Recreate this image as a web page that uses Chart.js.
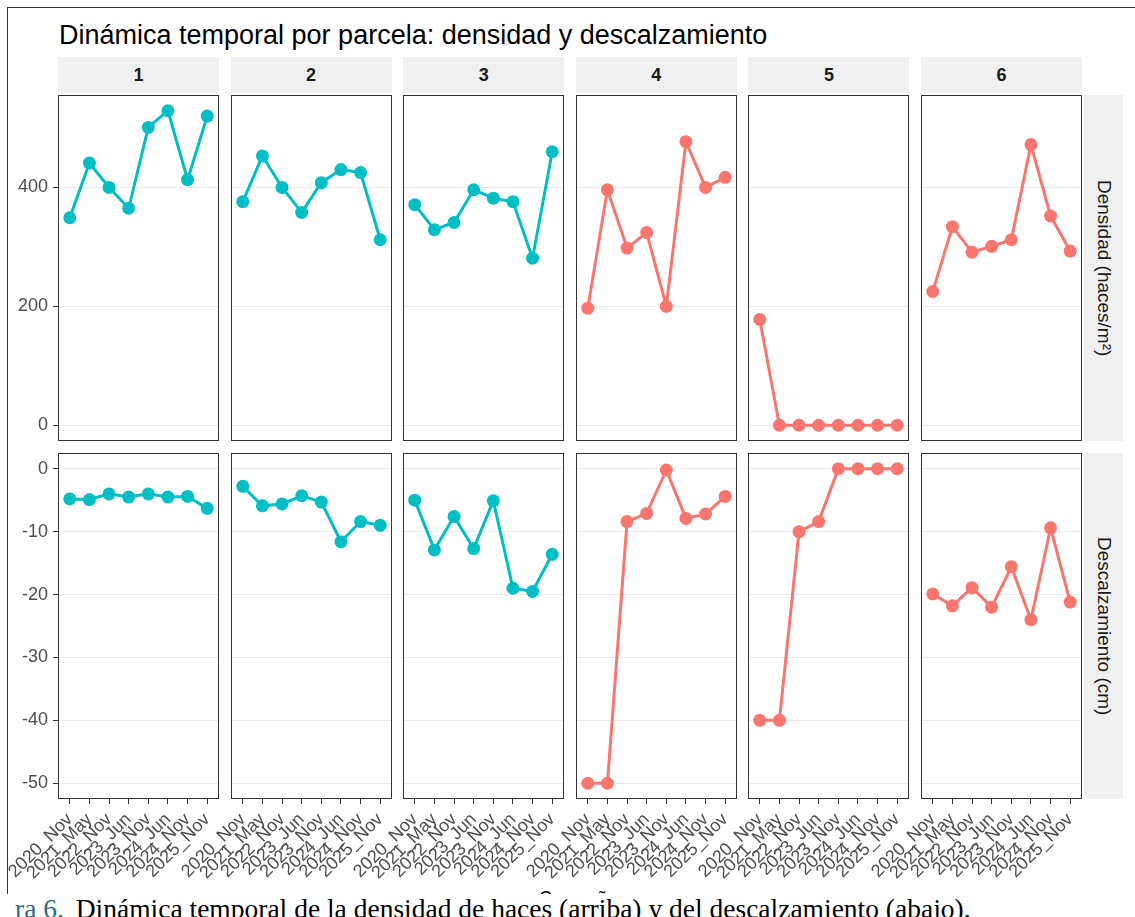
<!DOCTYPE html>
<html>
<head>
<meta charset="utf-8">
<script src="https://cdn.jsdelivr.net/npm/chart.js@4.4.1/dist/chart.umd.min.js"></script>
<style>
    html, body { margin: 0; padding: 0; background: #fff; width: 1135px; height: 917px; overflow: hidden; }
    body { position: relative; font-family: "Liberation Sans", Arial, sans-serif; }
    #frame { position: absolute; left: 7px; top: 7px; width: 1140px; height: 886px; border-left: 1px solid #333; border-top: 1px solid #333; overflow: hidden; }
    #title { position: absolute; left: 51px; top: 14px; font-size: 27px; line-height: 27px; color: #000; white-space: nowrap; }
    .strip-top { position: absolute; background: #f0f0f0; color: #1a1a1a; font-weight: bold; font-size: 18px; display: flex; align-items: center; justify-content: center; }
    .strip-right { position: absolute; background: #f0f0f0; color: #1a1a1a; font-size: 19px; display: flex; align-items: center; justify-content: center; }
    .strip-right span { writing-mode: vertical-rl; white-space: nowrap; }
    .panel { position: absolute; }
    #xtitle { position: absolute; left: 0; width: 1140px; top: 880px; text-align: center; font-size: 18px; color: #000; }
    #caption { position: absolute; left: 15px; top: 895px; font-family: "Liberation Serif", "Times New Roman", serif; font-size: 27.5px; line-height: 27px; color: #000; white-space: nowrap; }
    #caption .num { color: #2b6c84; margin-right: 5px; }
</style>
</head>
<body>
<div id="frame">
    <div id="title">Dinámica temporal por parcela: densidad y descalzamiento</div>
    <div id="xtitle">Campaña</div>
</div>
<div id="caption"><span class="num">ra 6.</span> Dinámica temporal de la densidad de haces (arriba) y del descalzamiento (abajo).</div>

<script>
// Categories / facets
const CAMPAIGNS = ['2020_Nov', '2021_May', '2022_Nov', '2023_Jun', '2023_Nov', '2024_Jun', '2024_Nov', '2025_Nov'];
const PARCELS = ['1', '2', '3', '4', '5', '6'];
const PARCEL_GROUP = ['A', 'A', 'A', 'B', 'B', 'B'];
const ROW_LABELS = ['Densidad (haces/m²)', 'Descalzamiento (cm)'];

// Densidad (haces/m2) per parcel
const densidadP1 = [349, 441, 400, 365, 501, 529, 413, 520];
const densidadP2 = [376, 453, 400, 358, 408, 430, 425, 312];
const densidadP3 = [371, 329, 341, 396, 382, 376, 281, 460];
const densidadP4 = [197, 396, 298, 324, 200, 477, 400, 417];
const densidadP5 = [178, 0, 0, 0, 0, 0, 0, 0];
const densidadP6 = [225, 334, 291, 301, 312, 472, 352, 293];

// Descalzamiento (cm) per parcel
const descalzP1 = [-4.8, -4.9, -4.0, -4.5, -4.0, -4.5, -4.4, -6.3];
const descalzP2 = [-2.8, -5.9, -5.6, -4.3, -5.3, -11.6, -8.4, -9.0];
const descalzP3 = [-5.0, -12.9, -7.6, -12.7, -5.1, -19.0, -19.5, -13.6];
const descalzP4 = [-50, -50, -8.4, -7.1, -0.2, -7.9, -7.2, -4.4];
const descalzP5 = [-40, -40, -10, -8.4, 0, 0, 0, 0];
const descalzP6 = [-19.9, -21.8, -18.9, -22, -15.6, -24, -9.4, -21.2];

// Tick labels
const DENS_TICKS = [0, 200, 400];
const DESC_TICKS = [0, -10, -20, -30, -40, -50];

const GROUP_COLORS = { A: '#00BFC4', B: '#F8766D' };

// Layout (page pixels)
const FRAME_X = 8, FRAME_Y = 8;
const PANEL_LEFT0 = 58;
const PANEL_STEP = 172.6;
const PANEL_W = 161;
const PANEL_H = 346;
const ROW_TOP = [95, 453];
const STRIP_TOP = 57, STRIP_H = 36;
const STRIP_RIGHT_X = 1084, STRIP_RIGHT_W = 39;
const Y_AXIS_W = 56;
const X_AXIS_H = 90;

const rows = [
    { values: [densidadP1, densidadP2, densidadP3, densidadP4, densidadP5, densidadP6], ticks: DENS_TICKS },
    { values: [descalzP1, descalzP2, descalzP3, descalzP4, descalzP5, descalzP6], ticks: DESC_TICKS }
];

// ggplot-like 5% expansion of the data range
function expandedRange(series) {
    const all = series.flat();
    const lo = Math.min(...all), hi = Math.max(...all);
    const pad = (hi - lo) * 0.05;
    return [lo - pad, hi + pad];
}

// Full border round each panel
const panelBorder = {
    id: 'panelBorder',
    afterDatasetsDraw(chart) {
        const a = chart.chartArea;
        const ctx = chart.ctx;
        ctx.save();
        ctx.strokeStyle = '#333333';
        ctx.lineWidth = 1;
        ctx.strokeRect(Math.round(a.left) + 0.5, Math.round(a.top) + 0.5,
            Math.round(a.right - a.left) - 1, Math.round(a.bottom - a.top) - 1);
        ctx.restore();
    }
};

function addDiv(cls, left, top, width, height, html) {
    const d = document.createElement('div');
    d.className = cls;
    d.style.left = (left - FRAME_X) + 'px';
    d.style.top = (top - FRAME_Y) + 'px';
    d.style.width = width + 'px';
    d.style.height = height + 'px';
    d.innerHTML = html;
    document.getElementById('frame').appendChild(d);
    return d;
}

// Strips
PARCELS.forEach((p, c) => {
    addDiv('strip-top', PANEL_LEFT0 + c * PANEL_STEP, STRIP_TOP, PANEL_W, STRIP_H, p);
});
ROW_LABELS.forEach((lab, r) => {
    addDiv('strip-right', STRIP_RIGHT_X, ROW_TOP[r], STRIP_RIGHT_W, PANEL_H, '<span>' + lab + '</span>');
});

// Panels
rows.forEach((row, r) => {
    const [yMin, yMax] = expandedRange(row.values);
    row.values.forEach((vals, c) => {
        const isBottom = r === 1;
        const isLeft = c === 0;
        const panelLeft = PANEL_LEFT0 + c * PANEL_STEP;
        const w = PANEL_W + Y_AXIS_W;
        const h = PANEL_H + (isBottom ? X_AXIS_H : 0);
        const holder = addDiv('panel', Math.round(panelLeft - Y_AXIS_W), ROW_TOP[r], w, h, '');
        const canvas = document.createElement('canvas');
        canvas.width = w;
        canvas.height = h;
        holder.appendChild(canvas);

        const color = GROUP_COLORS[PARCEL_GROUP[c]];
        new Chart(canvas.getContext('2d'), {
            type: 'line',
            data: {
                datasets: [{
                    data: vals.map((v, i) => ({ x: i, y: v })),
                    borderColor: color,
                    backgroundColor: color,
                    borderWidth: 3,
                    pointRadius: 6.5,
                    pointBorderWidth: 0,
                    pointBackgroundColor: color,
                    tension: 0
                }]
            },
            options: {
                responsive: false,
                animation: false,
                devicePixelRatio: 1,
                layout: { padding: 0, autoPadding: false },
                plugins: { legend: { display: false }, tooltip: { enabled: false } },
                scales: {
                    x: {
                        type: 'linear',
                        display: isBottom,
                        min: -0.6,
                        max: CAMPAIGNS.length - 1 + 0.6,
                        afterBuildTicks: s => { s.ticks = CAMPAIGNS.map((_, i) => ({ value: i })); },
                        afterFit: s => {
                            if (isBottom) s.height = X_AXIS_H;
                            s.paddingLeft = 0; s.paddingRight = 0;
                        },
                        grid: { drawOnChartArea: false, drawTicks: true, tickLength: 5, tickColor: '#333333', tickWidth: 1 },
                        border: { display: false },
                        ticks: {
                            autoSkip: false,
                            minRotation: 45,
                            maxRotation: 45,
                            padding: 5,
                            color: '#4d4d4d',
                            font: { family: 'Liberation Sans', size: 18 },
                            callback: v => CAMPAIGNS[v]
                        }
                    },
                    y: {
                        min: yMin,
                        max: yMax,
                        afterBuildTicks: s => { s.ticks = row.ticks.map(v => ({ value: v })); },
                        afterFit: s => {
                            s.width = Y_AXIS_W;
                            s.paddingTop = 0; s.paddingBottom = 0;
                        },
                        grid: { color: '#ebebeb', lineWidth: 1, drawTicks: isLeft, tickLength: 5, tickColor: '#333333' },
                        border: { display: false },
                        ticks: {
                            display: isLeft,
                            padding: 5,
                            color: '#4d4d4d',
                            font: { family: 'Liberation Sans', size: 18 }
                        }
                    }
                }
            },
            plugins: [panelBorder]
        });
    });
});
</script>
</body>
</html>
